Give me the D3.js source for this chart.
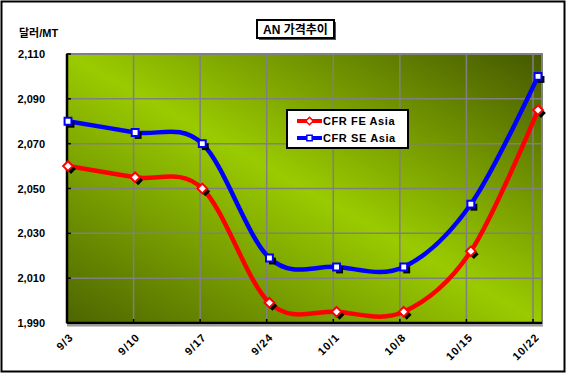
<!DOCTYPE html>
<html>
<head>
<meta charset="utf-8">
<script src="https://cdn.jsdelivr.net/npm/d3@7"></script>
<style>
  body { margin: 0; background: #fff; }
  text { font-family: "Liberation Sans", Arial, "Noto Sans CJK KR", sans-serif; font-weight: bold; }
</style>
</head>
<body>
<div id="chart"></div>
<script>
const dates = ["9/3", "9/10", "9/17", "9/24", "10/1", "10/8", "10/15", "10/22"];
const feAsia = [2060, 2055, 2050, 1999, 1995, 1995, 2022, 2085];
const seAsia = [2080, 2075, 2070, 2019, 2015, 2015, 2043, 2100];
const yTicks = [1990, 2010, 2030, 2050, 2070, 2090, 2110];

const width = 566, height = 378,
      plot = ({ left: 67, right: 542, top: 54, bottom: 323 });

let svg = d3.select("#chart")
    .append("svg")
    .attr("width", width)
    .attr("height", height);

// background gradient, dark corners top-right / bottom-left
let grad = svg.append("defs").append("linearGradient")
    .attr("id", "bg")
    .attr("x1", 0).attr("y1", 1).attr("x2", 1).attr("y2", 0);
grad.append("stop").attr("offset", 0).attr("stop-color", "#4d6500");
grad.append("stop").attr("offset", 0.5).attr("stop-color", "#9acb00");
grad.append("stop").attr("offset", 1).attr("stop-color", "#455800");

// outer frame
svg.append("rect")
    .attr("x", 1.5).attr("y", 1.5)
    .attr("width", 563).attr("height", 370)
    .attr("fill", "#fff").attr("stroke", "#000").attr("stroke-width", 2);

let x = d3.scalePoint()
    .domain(dates)
    .range([68, 538]);

let xGrid = d3.scalePoint() // excel puts gridlines a bit left of the points
    .domain(dates)
    .range([plot.left, 533]);

let y = d3.scaleLinear()
    .domain([1990, 2110])
    .range([plot.bottom, plot.top]);

// plot area
svg.append("rect")
    .attr("x", plot.left).attr("y", plot.top)
    .attr("width", plot.right - plot.left).attr("height", plot.bottom - plot.top)
    .attr("fill", "url(#bg)")
    .attr("stroke", "#808080").attr("stroke-width", 2);

// gridlines
svg.append("g")
    .selectAll("line")
    .data(yTicks.slice(1, -1))
    .join("line")
    .attr("x1", plot.left).attr("x2", plot.right)
    .attr("y1", d => y(d)).attr("y2", d => y(d))
    .attr("stroke", "#808080").attr("stroke-width", 1.5);

svg.append("g")
    .selectAll("line")
    .data(dates.slice(1))
    .join("line")
    .attr("x1", d => xGrid(d)).attr("x2", d => xGrid(d))
    .attr("y1", plot.top).attr("y2", plot.bottom)
    .attr("stroke", "#808080").attr("stroke-width", 1.5);

// axes lines with shadow
svg.append("line")
    .attr("x1", plot.left).attr("x2", plot.right + 1)
    .attr("y1", plot.bottom + 2.5).attr("y2", plot.bottom + 2.5)
    .attr("stroke", "#999").attr("stroke-width", 2);
svg.append("line")
    .attr("x1", plot.left).attr("x2", plot.right)
    .attr("y1", plot.bottom).attr("y2", plot.bottom)
    .attr("stroke", "#000").attr("stroke-width", 2.5);
svg.append("line")
    .attr("x1", plot.left).attr("x2", plot.left)
    .attr("y1", plot.top).attr("y2", plot.bottom)
    .attr("stroke", "#000").attr("stroke-width", 2.5);

// tick marks
svg.append("g")
    .selectAll("line")
    .data(yTicks)
    .join("line")
    .attr("x1", plot.left).attr("x2", plot.left + 4)
    .attr("y1", d => y(d)).attr("y2", d => y(d))
    .attr("stroke", "#000").attr("stroke-width", 1.5);
svg.append("g")
    .selectAll("line")
    .data(dates.slice(1))
    .join("line")
    .attr("x1", d => xGrid(d)).attr("x2", d => xGrid(d))
    .attr("y1", plot.bottom).attr("y2", plot.bottom - 4)
    .attr("stroke", "#000").attr("stroke-width", 1.5);

// y labels
svg.append("g")
    .selectAll("text")
    .data(yTicks)
    .join("text")
    .attr("x", 45)
    .attr("y", d => y(d) + 4)
    .attr("text-anchor", "end")
    .attr("font-size", 11)
    .text(d3.format(","));

// x labels
svg.append("g")
    .selectAll("text")
    .data(dates)
    .join("text")
    .attr("transform", d => `translate(${xGrid(d) + 7},${plot.bottom + 15}) rotate(-45)`)
    .attr("text-anchor", "end")
    .attr("font-size", 11)
    .attr("letter-spacing", 1)
    .text(d => d);

// unit label
svg.append("text")
    .attr("x", 19).attr("y", 37)
    .attr("font-size", 11)
    .text("달러/MT");

// title box
svg.append("rect")
    .attr("x", 259).attr("y", 22).attr("width", 77).attr("height", 18)
    .attr("fill", "#555");
svg.append("rect")
    .attr("x", 257).attr("y", 20).attr("width", 77).attr("height", 18)
    .attr("fill", "#fff").attr("stroke", "#000").attr("stroke-width", 2);
svg.append("text")
    .attr("x", 295.5).attr("y", 34)
    .attr("text-anchor", "middle")
    .attr("font-size", 12)
    .text("AN 가격추이");

const series = [
    { name: "CFR FE Asia", values: feAsia, color: "#ff0000", shape: d3.symbolDiamond2 },
    { name: "CFR SE Asia", values: seAsia, color: "#0000ff", shape: d3.symbolSquare2 }
];

let line = d3.line()
    .x((d, i) => x(dates[i]))
    .y(d => y(d))
    .curve(d3.curveCardinal.tension(0));

for (let s of series) {
    svg.append("path")
        .attr("d", line(s.values))
        .attr("fill", "none")
        .attr("stroke", s.color)
        .attr("stroke-width", 4.5);

    let sym = d3.symbol().type(s.shape).size(60);
    // marker shadows
    svg.append("g")
        .selectAll("path")
        .data(s.values)
        .join("path")
        .attr("d", sym)
        .attr("transform", (d, i) => `translate(${x(dates[i]) + 3},${y(d) + 3})`)
        .attr("fill", "#000");
    svg.append("g")
        .selectAll("path")
        .data(s.values)
        .join("path")
        .attr("d", sym)
        .attr("transform", (d, i) => `translate(${x(dates[i])},${y(d)})`)
        .attr("fill", "#fff")
        .attr("stroke", s.color)
        .attr("stroke-width", 2);
}

// legend
let legend = svg.append("g");
legend.append("rect")
    .attr("x", 287).attr("y", 110).attr("width", 121).attr("height", 38)
    .attr("fill", "#fff").attr("stroke", "#000").attr("stroke-width", 2);

let item = legend.selectAll(".item")
    .data(series)
    .join("g")
    .attr("class", "item")
    .attr("transform", (d, i) => `translate(297,${121 + i * 17})`);

item.append("line")
    .attr("x1", 0).attr("x2", 25)
    .attr("stroke", d => d.color).attr("stroke-width", 4);
item.append("path")
    .attr("d", d => d3.symbol().type(d.shape).size(36)())
    .attr("transform", "translate(12.5,0)")
    .attr("fill", "#fff")
    .attr("stroke", d => d.color).attr("stroke-width", 1.5);
item.append("text")
    .attr("x", 26).attr("y", 4)
    .attr("font-size", 11)
    .attr("letter-spacing", 0.6)
    .text(d => d.name);
</script>
</body>
</html>
